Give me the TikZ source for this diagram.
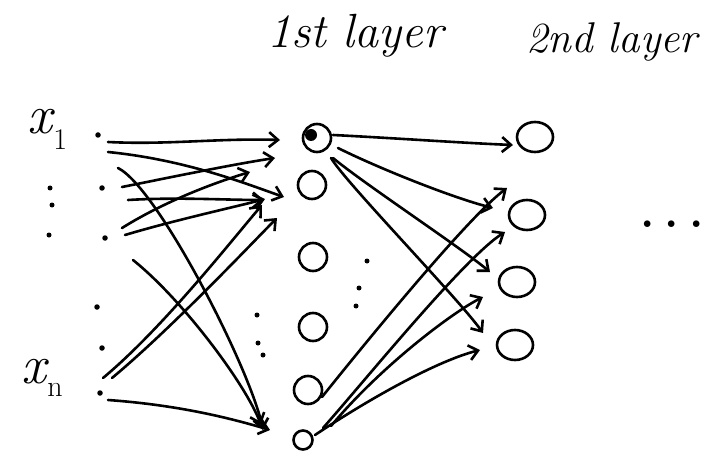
\documentclass[tikz,border=0pt]{standalone}
\usepackage{fontspec}
\setmainfont{Latin Modern Roman}
\usetikzlibrary{arrows.meta,calc,shapes.geometric}
\begin{document}
\begin{tikzpicture}[x=1pt,y=-1pt,line cap=round,line join=round,
  wire/.style={line width=2.6pt,-{Straight Barb[length=9pt,width=15pt]}},
  inp/.style={circle,fill,inner sep=0pt,minimum size=5.5pt},
  dotmark/.style={circle,fill,inner sep=0pt,minimum size=5pt},
  neuron/.style={circle,draw,line width=2.6pt,minimum size=28pt,inner sep=0pt},
  outn/.style={ellipse,draw,line width=2.6pt,minimum width=36pt,minimum height=30pt,inner sep=0pt},
  title/.style={font=\itshape\fontsize{48}{54}\selectfont,inner sep=0pt},
  varlab/.style={font=\itshape\fontsize{55}{60}\selectfont},
  sublab/.style={font=\fontsize{30}{34}\selectfont},
  moredots/.style={font=\bfseries\fontsize{46}{50}\selectfont,inner sep=0pt}]
\useasboundingbox (0,0) rectangle (708,454);

% titles
\node[title] (t1) at (355,36) {1st layer};
\node[title,font=\itshape\fontsize{43}{50}\selectfont] (t2) at (612,42) {2nd layer};
\node[varlab] (x1) at (40,122) {x};
\node[sublab,anchor=west] (x1s) at ($(x1.east)+(-6,18)$) {1};
\node[varlab] (xn) at (34,372) {x};
\node[sublab,anchor=west] (xns) at ($(xn.east)+(-6,18)$) {n};
\node[moredots,anchor=base] (more) at (672,227) {.\hspace{10pt}.\hspace{10pt}.};

% vertical dots between labels
\node[dotmark] (l1) at (50,188) {};
\node[dotmark] (l2) at (52,205) {};
\node[dotmark] (l3) at (49,235) {};

% inputs
\node[inp] (i1) at (98,135) {};
\node[inp] (i2) at (102,188) {};
\node[inp] (i3) at (105,238) {};
\node[inp] (i4) at (97,307) {};
\node[inp] (i5) at (102,348) {};
\node[inp] (i6) at (100,393) {};

% first layer
\node[neuron] (h1) at (317,138) {};
\fill ($(h1)+(-6,-3)$) circle (6pt);
\node[neuron] (h2) at (312,185) {};
\node[neuron] (h3) at (313,257) {};
\node[neuron] (h4) at (313,327) {};
\node[neuron] (h5) at (308,390) {};
\node[neuron,minimum size=19pt] (h6) at (303,440) {};

% dots in first layer region
\node[dotmark] (d1) at (367,261) {};
\node[dotmark] (d2) at (359,288) {};
\node[dotmark] (d3) at (356,306) {};
\node[dotmark] (d4) at (257,315) {};
\node[dotmark] (d5) at (258,343) {};
\node[dotmark] (d6) at (263,355) {};

% second layer
\node[outn] (o1) at (535,137) {};
\node[outn] (o2) at (527,215) {};
\node[outn] (o3) at (517,282) {};
\node[outn] (o4) at (515,345) {};

% inputs -> first layer
\draw[wire] ($(i1)+(10,7)$) .. controls +(60,3) and +(-60,-2) .. ($(h1)+(-37,2)$);
\draw[wire] ($(i1)+(10,17)$) .. controls +(80,8) and +(-35,-12) .. ($(h2)+(-28,12)$);
\draw[wire] ($(i2)+(16,-20)$) .. controls +(40,20) and +(-12,-60) .. ($(h6)+(-40,-10)$);
\draw[wire] ($(i2)+(20,-1)$) .. controls +(60,-12) and +(-40,6) .. ($(h1)+(-42,20)$);
\draw[wire] ($(i2)+(26,12)$) .. controls +(50,-3) and +(-40,0) .. ($(h2)+(-48,15)$);
\draw[wire] ($(i3)+(17,-10)$) .. controls +(40,-25) and +(-40,12) .. ($(h2)+(-62,-13)$);
\draw[wire] ($(i3)+(20,-3)$) .. controls +(50,-15) and +(-30,8) .. ($(h2)+(-47,14)$);
\draw[wire] ($(i3)+(28,22)$) .. controls +(50,40) and +(-15,-40) .. ($(h6)+(-42,-15)$);
\draw[wire] ($(i6)+(3,-15)$) .. controls +(60,-50) and +(-30,35) .. ($(h2)+(-50,20)$);
\draw[wire] ($(i6)+(12,-15)$) .. controls +(60,-50) and +(-25,25) .. ($(h2)+(-35,33)$);
\draw[wire] ($(i6)+(8,7)$) .. controls +(70,5) and +(-40,-12) .. ($(h6)+(-33,-10)$);

% first layer -> second layer
\draw[wire] ($(h1)+(16,-3)$) .. controls +(60,3) and +(-50,-2) .. ($(o1)+(-22,8)$);
\draw[wire] ($(h1)+(21,10)$) .. controls +(40,20) and +(-40,-10) .. ($(o2)+(-34,-7)$);
\draw[wire] ($(h1)+(16,20)$) .. controls +(30,25) and +(-30,-25) .. ($(o3)+(-27,-10)$);
\draw[wire] ($(h1)+(14,20)$) .. controls +(15,25) and +(-25,-35) .. ($(o4)+(-32,-12)$);
\draw[wire] ($(h5)+(14,7)$) .. controls +(40,-50) and +(-40,30) .. ($(o2)+(-20,-27)$);
\draw[wire] ($(h6)+(20,-12)$) .. controls +(40,-45) and +(-40,25) .. ($(o3)+(-12,-50)$);
\draw[wire] ($(h6)+(28,-14)$) .. controls +(50,-60) and +(-30,15) .. ($(o3)+(-34,15)$);
\draw[wire] ($(h6)+(12,-5)$) .. controls +(60,-40) and +(-40,10) .. ($(o4)+(-35,5)$);
\end{tikzpicture}
\end{document}
